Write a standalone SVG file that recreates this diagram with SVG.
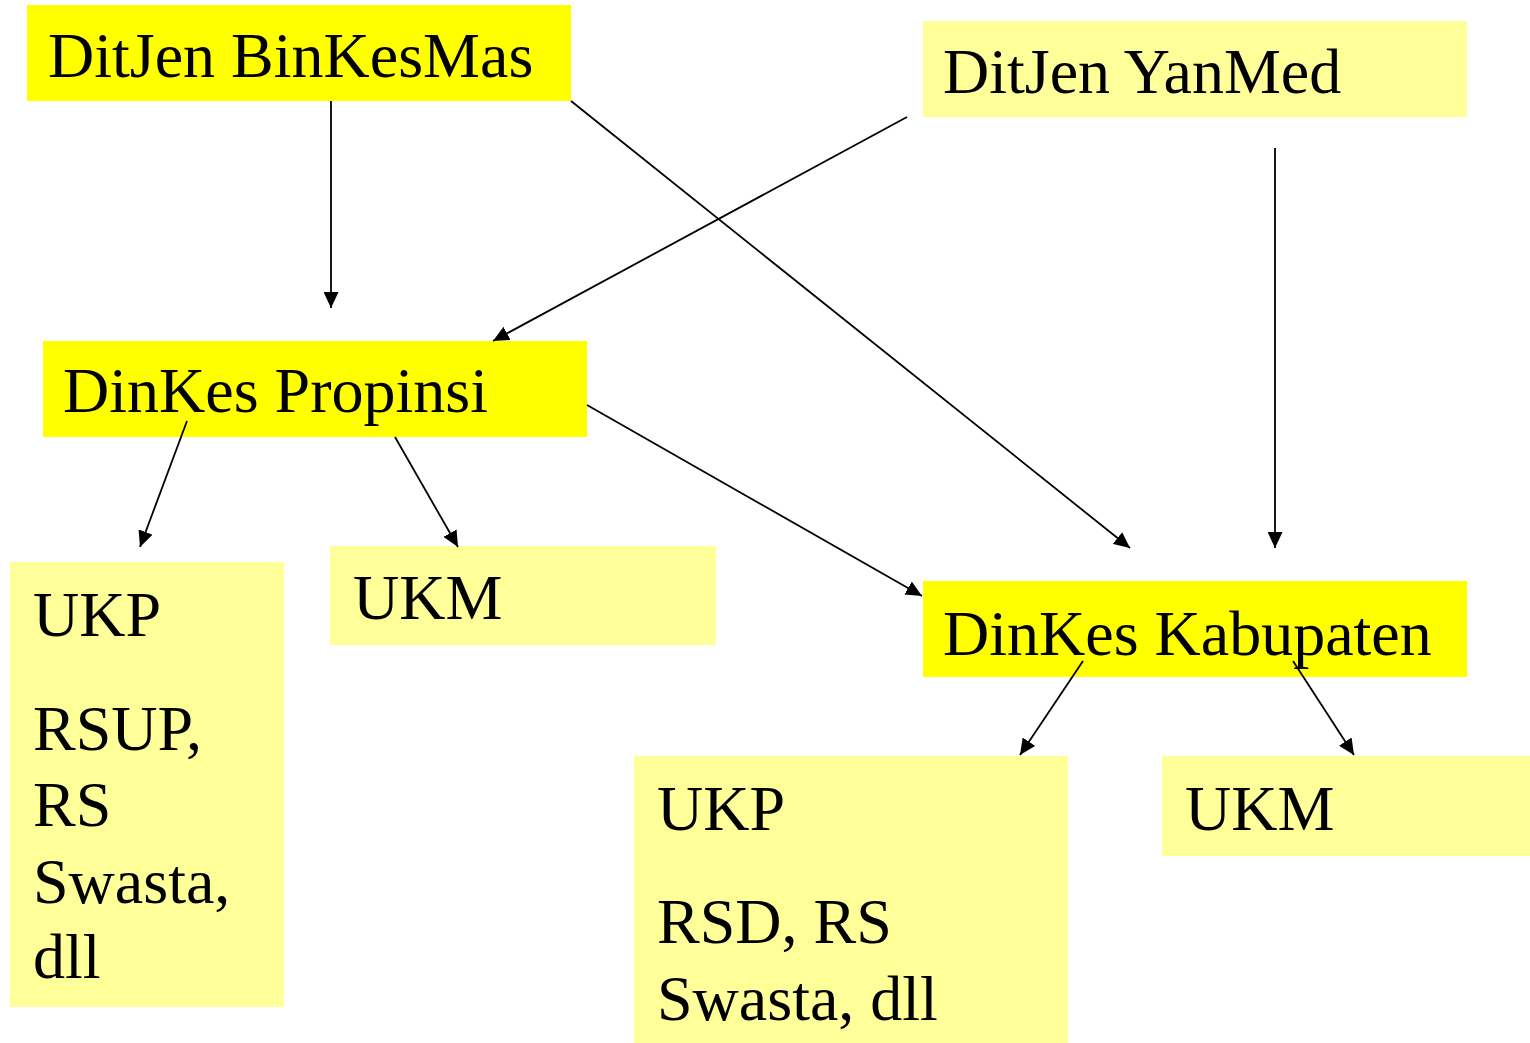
<svg xmlns="http://www.w3.org/2000/svg" width="1530" height="1043" viewBox="0 0 1530 1043">
  <style>
    .hi { fill: #FFFF00; }
    .lo { fill: #FFFF99; }
    text { font-family: "Liberation Serif", "Times New Roman", serif; font-size: 64px; fill: #000; }
    .conn line { stroke: #000; stroke-width: 1.8; marker-end: url(#arrow); }
  </style>
  <defs>
    <marker id="arrow" viewBox="0 0 16 15" refX="16" refY="7.5" markerWidth="16" markerHeight="15" markerUnits="userSpaceOnUse" orient="auto">
      <path d="M0,0 L16,7.5 L0,15 Z" fill="#000"/>
    </marker>
  </defs>
  <rect width="1530" height="1043" fill="#fff"/>

  <g id="ditjen-binkesmas">
    <rect class="hi" x="27" y="5" width="544" height="96"/>
    <text x="48" y="77">DitJen BinKesMas</text>
  </g>
  <g id="ditjen-yanmed">
    <rect class="lo" x="923" y="21" width="544" height="96"/>
    <text x="943" y="93">DitJen YanMed</text>
  </g>
  <g id="dinkes-propinsi">
    <rect class="hi" x="43" y="341" width="544" height="96"/>
    <text x="63" y="412">DinKes Propinsi</text>
  </g>
  <g id="ukp-propinsi">
    <rect class="lo" x="10" y="562" width="274" height="445"/>
    <text x="33" y="636">UKP</text>
    <text x="33" y="750">RSUP,</text>
    <text x="33" y="826">RS</text>
    <text x="33" y="903">Swasta,</text>
    <text x="33" y="978">dll</text>
  </g>
  <g id="ukm-propinsi">
    <rect class="lo" x="330" y="546" width="386" height="99"/>
    <text x="353" y="619">UKM</text>
  </g>
  <g id="dinkes-kabupaten">
    <rect class="hi" x="923" y="581" width="544" height="96"/>
    <text x="943" y="655">DinKes Kabupaten</text>
  </g>
  <g id="ukp-kabupaten">
    <rect class="lo" x="634" y="756" width="434" height="287"/>
    <text x="657" y="830">UKP</text>
    <text x="657" y="943">RSD, RS</text>
    <text x="657" y="1020">Swasta, dll</text>
  </g>
  <g id="ukm-kabupaten">
    <rect class="lo" x="1162" y="756" width="368" height="100"/>
    <text x="1185" y="830">UKM</text>
  </g>

  <g id="connectors" class="conn">
    <line x1="331" y1="101" x2="331" y2="308"/>
    <line x1="571" y1="101" x2="1130" y2="548"/>
    <line x1="907" y1="117" x2="493" y2="341"/>
    <line x1="1275" y1="148" x2="1275" y2="548"/>
    <line x1="187" y1="421" x2="140" y2="547"/>
    <line x1="395" y1="437" x2="458" y2="547"/>
    <line x1="587" y1="405" x2="922" y2="596"/>
    <line x1="1083" y1="661" x2="1020" y2="755"/>
    <line x1="1293" y1="661" x2="1354" y2="755"/>
  </g>
</svg>
